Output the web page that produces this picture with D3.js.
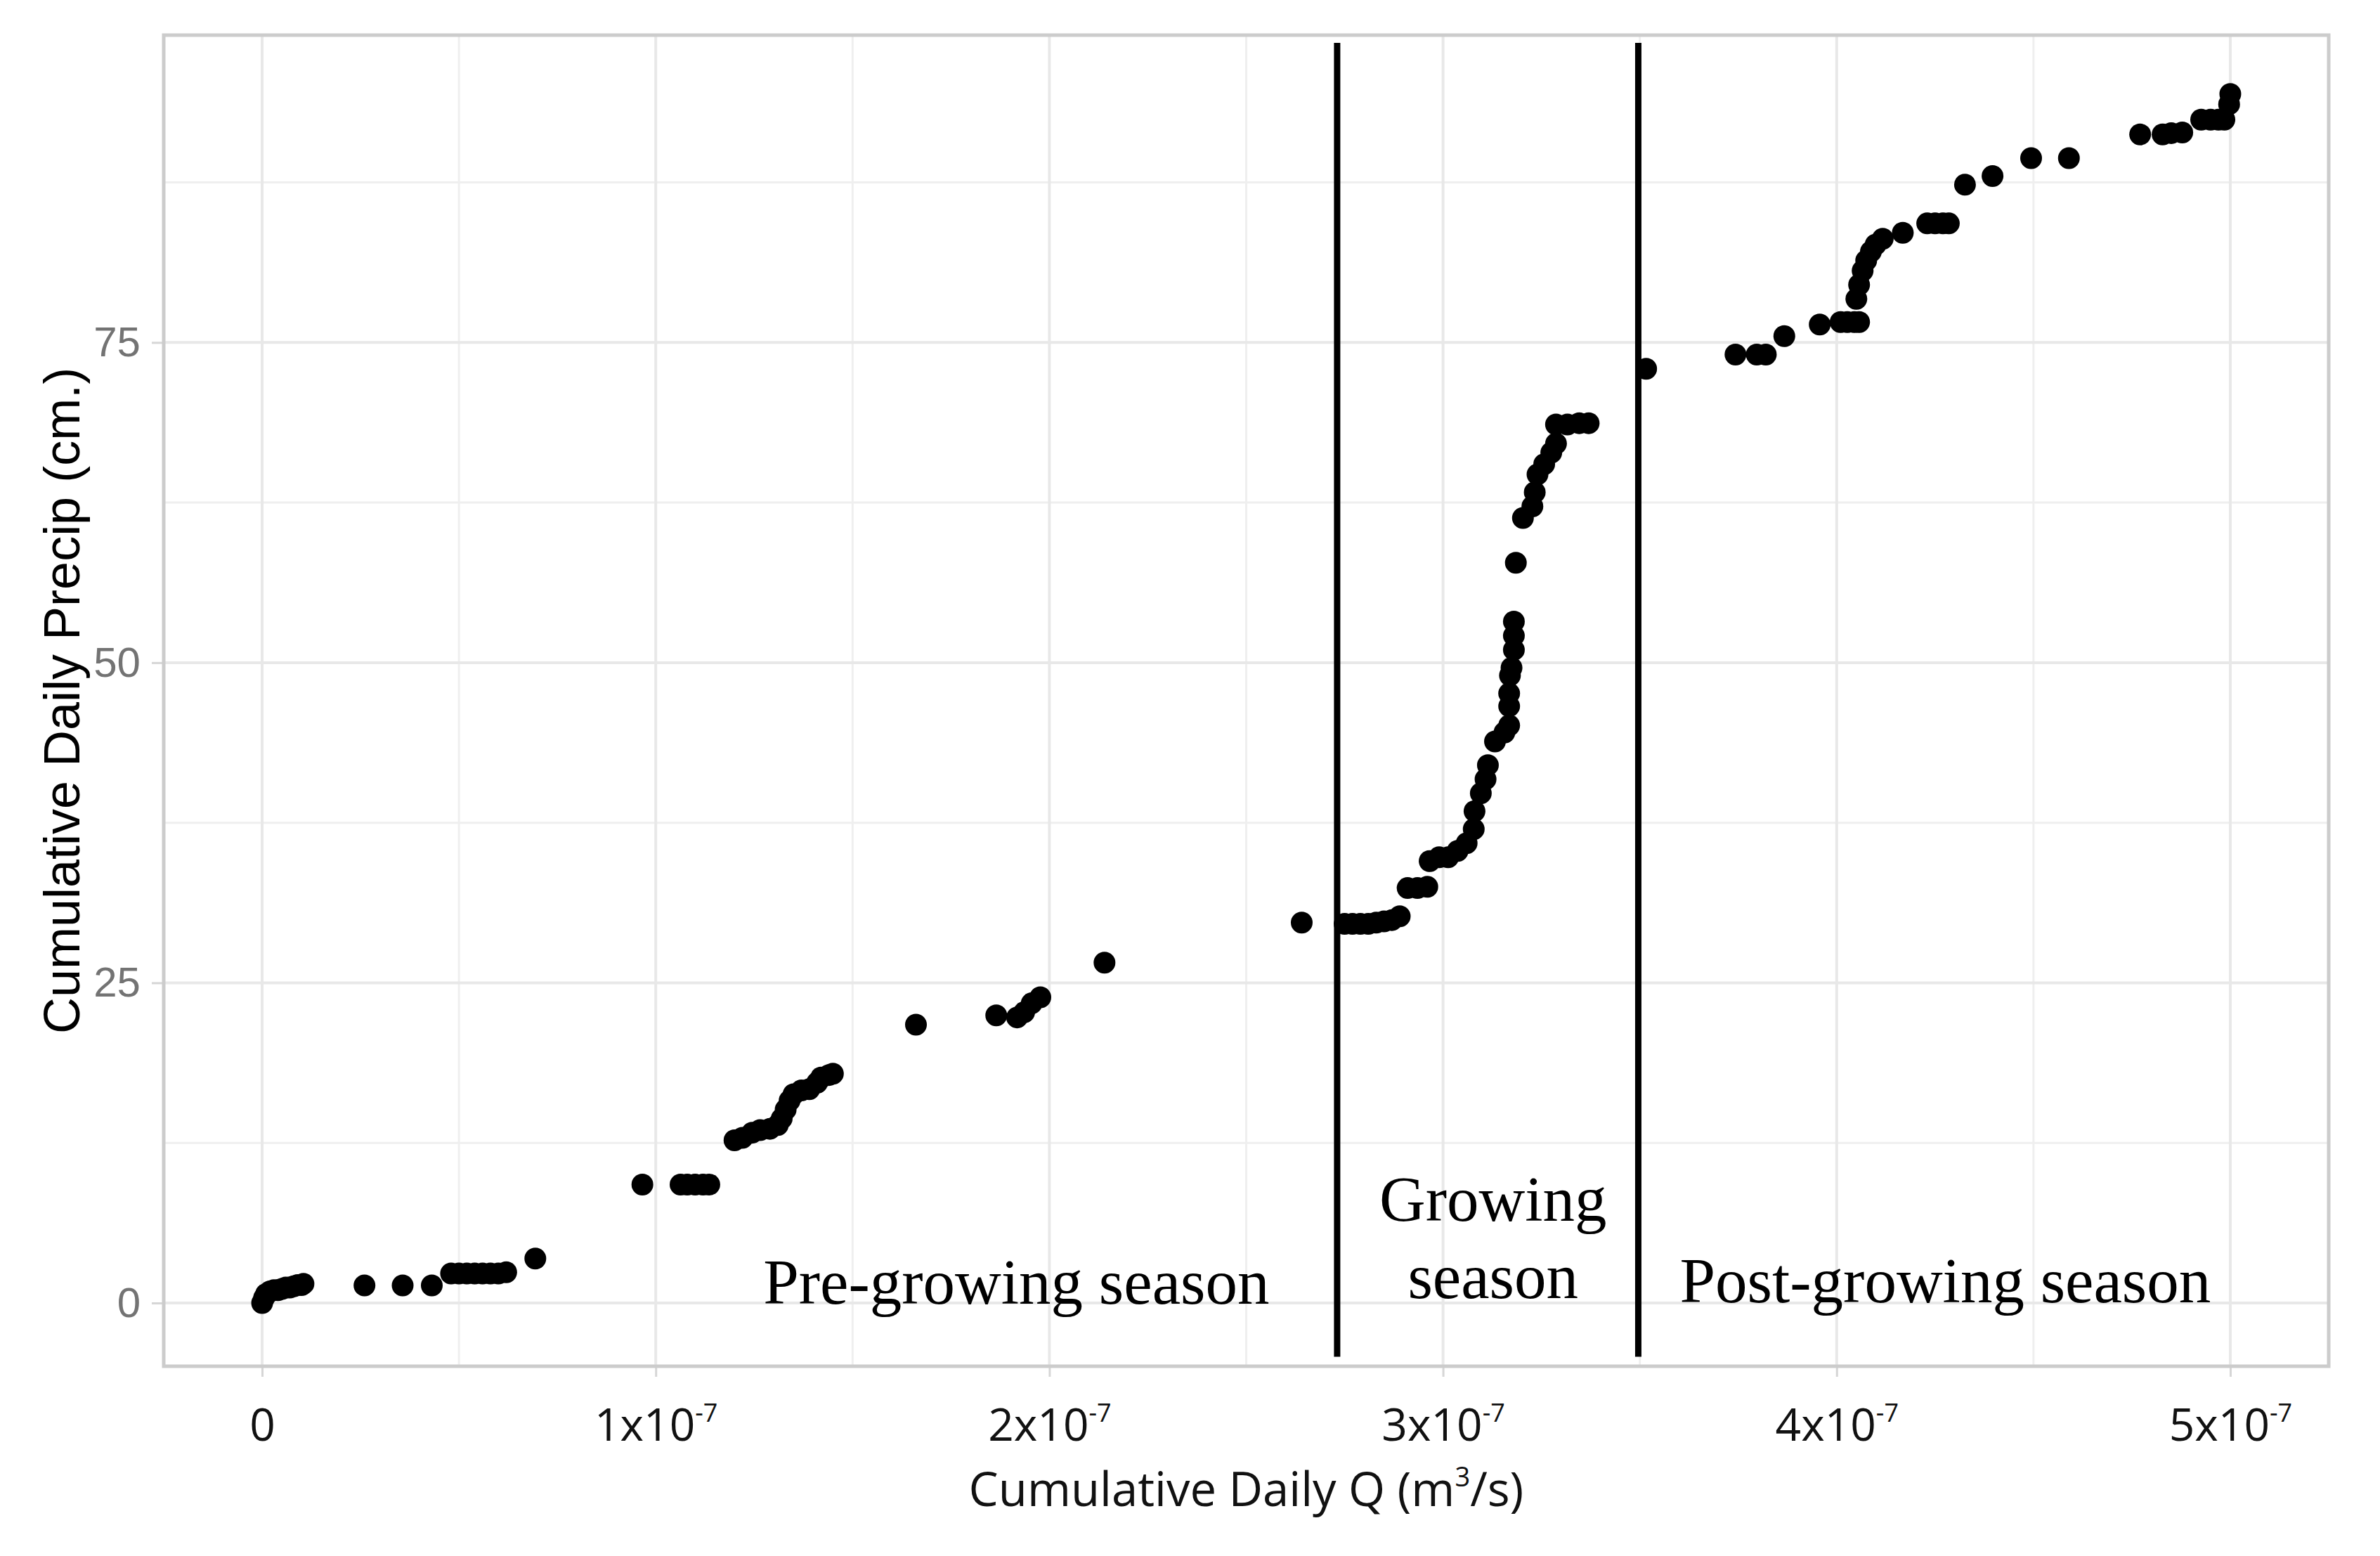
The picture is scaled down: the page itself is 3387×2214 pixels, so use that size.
<!DOCTYPE html>
<html>
<head>
<meta charset="utf-8">
<script src="https://cdn.jsdelivr.net/npm/d3@7"></script>
<style>
    html, body { margin: 0; padding: 0; background: #ffffff; }
    svg { display: block; }
</style>
</head>
<body>
<svg id="chart"></svg>
<script>
//*************************************************
// Data (cumulative Q in units of 1x10^-7 m3/s, precip in cm)
//*************************************************
var cumQ = [
    0.00, 0.005, 0.01, 0.02, 0.03, 0.04, 0.05, 0.06, 0.07, 0.08, 0.09, 0.10, 0.105,
    0.26, 0.357, 0.431,
    0.48, 0.50, 0.52, 0.54, 0.56, 0.58, 0.60, 0.62,
    0.694,
    0.966, 1.063, 1.08, 1.10, 1.12, 1.136,
    1.20, 1.22, 1.245, 1.265, 1.29, 1.31, 1.32, 1.33, 1.34, 1.35, 1.37, 1.39, 1.41, 1.42, 1.44, 1.45,
    1.661,
    1.865, 1.918, 1.936, 1.955, 1.977,
    2.14,
    2.641,
    2.75, 2.77, 2.79, 2.81, 2.83, 2.85, 2.87, 2.89,
    2.91, 2.935, 2.96,
    2.966, 2.99, 3.013, 3.037, 3.06, 3.078, 3.08, 3.096, 3.108, 3.114, 3.132, 3.156, 3.168, 3.168, 3.168,
    3.17, 3.174, 3.18, 3.18, 3.18, 3.185, 3.203, 3.227, 3.233, 3.24, 3.257, 3.275, 3.287, 3.287, 3.316, 3.346, 3.37,
    3.516,
    3.743, 3.797, 3.82, 3.867, 3.957, 4.01, 4.027, 4.045, 4.057,
    4.05, 4.057, 4.066, 4.075, 4.087, 4.099, 4.117,
    4.168,
    4.23, 4.25, 4.27, 4.285,
    4.326, 4.396, 4.494, 4.59,
    4.771, 4.828, 4.85, 4.878,
    4.926, 4.95, 4.97, 4.985, 4.997, 5.0
];
var cumPrecip = [
    0.0, 0.4, 0.7, 0.9, 1.0, 1.0, 1.1, 1.2, 1.2, 1.3, 1.4, 1.4, 1.5,
    1.37, 1.37, 1.37,
    2.3, 2.3, 2.3, 2.3, 2.3, 2.3, 2.3, 2.4,
    3.47,
    9.25, 9.25, 9.25, 9.25, 9.25, 9.25,
    12.7, 12.9, 13.3, 13.5, 13.6, 13.9, 14.4, 15.1, 15.8, 16.3, 16.6, 16.7, 17.2, 17.6, 17.8, 17.9,
    21.73,
    22.46, 22.3, 22.7, 23.4, 23.87,
    26.57,
    29.7,
    29.6, 29.6, 29.6, 29.6, 29.7, 29.8, 29.9, 30.2,
    32.4, 32.4, 32.5,
    34.5, 34.8, 34.8, 35.3, 35.9, 37.0, 38.4, 39.8, 40.9, 42.0, 43.85, 44.55, 45.1, 46.6, 47.6,
    49.0, 49.6, 51.0, 52.1, 53.2, 57.8, 61.3, 62.2, 63.3, 64.7, 65.5, 66.4, 67.1, 68.6, 68.6, 68.7, 68.7,
    72.95,
    74.06, 74.06, 74.06, 75.5, 76.4, 76.6, 76.6, 76.6, 76.6,
    78.4, 79.5, 80.6, 81.4, 82.1, 82.65, 83.1,
    83.57,
    84.3, 84.3, 84.3, 84.3,
    87.32, 88.0, 89.4, 89.4,
    91.25, 91.25, 91.35, 91.4,
    92.4, 92.4, 92.4, 92.4, 93.6, 94.4
];

// season boundaries (same units as cumQ)
var seasonBreaks = [2.731, 3.496];

// tick labels
var xTickValues = [0, 1, 2, 3, 4, 5];
var xTickLabels = ['0', '1x10', '2x10', '3x10', '4x10', '5x10'];
var yTickValues = [0, 25, 50, 75];

// annotation text: label line, x, y in data units
var seasonLabels = ['Pre-growing season', 'Growing', 'season', 'Post-growing season'];
var seasonLabelX = [1.916, 3.127, 3.127, 4.276];
var seasonLabelY = [-0.05, 6.4, 0.4, 0.05];

//*************************************************
// Layout
//*************************************************
var _width = 3387;
var _height = 2214;
var _padding = { top: 50, right: 73, bottom: 270, left: 233 };

var svg = d3.select('#chart')
    .attr('width', _width)
    .attr('height', _height)
    .style('background', '#ffffff');

var x = d3.scaleLinear()
    .domain([-0.25, 5.25])
    .range([_padding.left, _width - _padding.right]);

var y = d3.scaleLinear()
    .domain([-4.94, 99.0])
    .range([_height - _padding.bottom, _padding.top]);

var panelLeft = x.range()[0], panelRight = x.range()[1];
var panelTop = y.range()[1], panelBottom = y.range()[0];

//----------------------------------------------------------------------------------
// Grid lines (minor first, then major)
//----------------------------------------------------------------------------------
var grid = svg.append('g').attr('class', 'grid');

grid.selectAll('.xminor').data([0.5, 1.5, 2.5, 3.5, 4.5]).enter().append('line')
    .attr('x1', function (d){ return x(d); })
    .attr('x2', function (d){ return x(d); })
    .attr('y1', panelTop).attr('y2', panelBottom)
    .attr('stroke', '#efefef').attr('stroke-width', 3);

grid.selectAll('.yminor').data([12.5, 37.5, 62.5, 87.5]).enter().append('line')
    .attr('y1', function (d){ return y(d); })
    .attr('y2', function (d){ return y(d); })
    .attr('x1', panelLeft).attr('x2', panelRight)
    .attr('stroke', '#efefef').attr('stroke-width', 3);

grid.selectAll('.xmajor').data(xTickValues).enter().append('line')
    .attr('x1', function (d){ return x(d); })
    .attr('x2', function (d){ return x(d); })
    .attr('y1', panelTop).attr('y2', panelBottom)
    .attr('stroke', '#e8e8e8').attr('stroke-width', 4);

grid.selectAll('.ymajor').data(yTickValues).enter().append('line')
    .attr('y1', function (d){ return y(d); })
    .attr('y2', function (d){ return y(d); })
    .attr('x1', panelLeft).attr('x2', panelRight)
    .attr('stroke', '#e8e8e8').attr('stroke-width', 4);

//----------------------------------------------------------------------------------
// Axes
//----------------------------------------------------------------------------------
var xAxis = svg.append('g')
    .attr('transform', 'translate(0,' + panelBottom + ')')
    .call(d3.axisBottom(x).tickValues(xTickValues).tickSize(15).tickFormat(''));
xAxis.select('.domain').remove();
xAxis.selectAll('.tick line').attr('stroke', '#d6d6d6').attr('stroke-width', 3);

xAxis.selectAll('.tick').each(function (d, i){
    var t = d3.select(this).append('text')
        .attr('y', 106)
        .attr('fill', '#111')
        .attr('text-anchor', 'middle')
        .style('font-family', '"Open Sans", "Noto Sans", sans-serif')
        .style('font-size', '64px');
    t.append('tspan').text(xTickLabels[i]);
    if (d !== 0){
        t.append('tspan')
            .attr('dy', -27)
            .style('font-size', '36px')
            .text('-7');
    }
});

var yAxis = svg.append('g')
    .attr('transform', 'translate(' + panelLeft + ',0)')
    .call(d3.axisLeft(y).tickValues(yTickValues).tickSize(17).tickPadding(16));
yAxis.select('.domain').remove();
yAxis.selectAll('.tick line').attr('stroke', '#d6d6d6').attr('stroke-width', 3);
yAxis.selectAll('.tick text')
    .attr('fill', '#737373')
    .style('font-family', '"Liberation Sans", Arial, sans-serif')
    .style('font-size', '60px');

//----------------------------------------------------------------------------------
// Points
//----------------------------------------------------------------------------------
svg.append('g').attr('class', 'points')
    .selectAll('circle')
    .data(cumQ)
    .enter().append('circle')
    .attr('cx', function (d){ return x(d); })
    .attr('cy', function (d, i){ return y(cumPrecip[i]); })
    .attr('r', 15.5)
    .attr('fill', '#000');

//----------------------------------------------------------------------------------
// Season breaks and labels
//----------------------------------------------------------------------------------
svg.append('g').selectAll('line')
    .data(seasonBreaks)
    .enter().append('line')
    .attr('x1', function (d){ return x(d); })
    .attr('x2', function (d){ return x(d); })
    .attr('y1', y(98.4))
    .attr('y2', y(-4.2))
    .attr('stroke', '#000')
    .attr('stroke-width', 9);

svg.append('g').selectAll('text')
    .data(seasonLabels)
    .enter().append('text')
    .attr('x', function (d, i){ return x(seasonLabelX[i]); })
    .attr('y', function (d, i){ return y(seasonLabelY[i]); })
    .attr('text-anchor', 'middle')
    .attr('fill', '#000')
    .style('font-family', '"Liberation Serif", "Times New Roman", serif')
    .style('font-size', '91px')
    .text(function (d){ return d; });

//----------------------------------------------------------------------------------
// Panel border
//----------------------------------------------------------------------------------
svg.append('rect')
    .attr('x', panelLeft)
    .attr('y', panelTop)
    .attr('width', panelRight - panelLeft)
    .attr('height', panelBottom - panelTop)
    .attr('fill', 'none')
    .attr('stroke', '#cccccc')
    .attr('stroke-width', 5);

//----------------------------------------------------------------------------------
// Axis titles
//----------------------------------------------------------------------------------
var xTitle = svg.append('text')
    .attr('x', (panelLeft + panelRight) / 2)
    .attr('y', 2143)
    .attr('text-anchor', 'middle')
    .attr('fill', '#111')
    .style('font-family', '"Open Sans", "Noto Sans", sans-serif')
    .style('font-size', '67px');
xTitle.append('tspan').text('Cumulative Daily Q (m');
xTitle.append('tspan').attr('dy', -28).style('font-size', '38px').text('3');
xTitle.append('tspan').attr('dy', 28).text('/s)');

svg.append('text')
    .attr('transform', 'translate(113,' + ((panelTop + panelBottom) / 2) + ') rotate(-90)')
    .attr('text-anchor', 'middle')
    .attr('fill', '#000')
    .style('font-family', '"Liberation Sans", Arial, sans-serif')
    .style('font-size', '72px')
    .text('Cumulative Daily Precip (cm.)');
</script>
</body>
</html>
